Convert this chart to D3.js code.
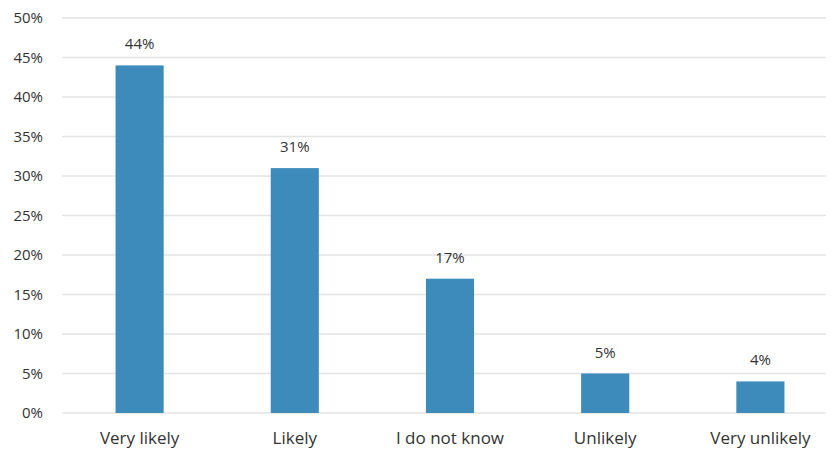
<!DOCTYPE html>
<html><head><meta charset="utf-8">
<script src="https://cdn.jsdelivr.net/npm/d3@7"></script>
<style>body{margin:0;background:#fff}svg{display:block}</style>
</head><body>
<svg id="c" width="833" height="457"></svg>
<script>
const categories = ["Very likely","Likely","I do not know","Unlikely","Very unlikely"];
const values = [44,31,17,5,4];
const yTicks = [0,5,10,15,20,25,30,35,40,45,50];

const svg = d3.select("#c");
const font = "'Open Sans', Lato, sans-serif";
const x = d3.scaleBand().domain(categories).range([62,838]).paddingInner(0.69).paddingOuter(0.345);
const y = d3.scaleLinear().domain([0,50]).range([413,18]);

svg.append("g").selectAll("line").data(yTicks).join("line")
  .attr("x1",62).attr("x2",826).attr("y1",d=>y(d)).attr("y2",d=>y(d))
  .attr("stroke","#e3e3e3").attr("stroke-width",1.5);

const yAxis = svg.append("g").attr("transform","translate(43,0)")
  .call(d3.axisLeft(y).tickValues(yTicks).tickFormat(d=>d+"%").tickSize(0).tickPadding(0));
yAxis.select(".domain").remove();
yAxis.selectAll("text").attr("font-family",font).attr("font-size",15).attr("fill","#333");

svg.append("g").selectAll("rect").data(values).join("rect")
  .attr("x",(d,i)=>x(categories[i])).attr("width",x.bandwidth())
  .attr("y",d=>y(d)).attr("height",d=>y(0)-y(d)).attr("fill","#3d8bbb");

svg.append("g").selectAll("text").data(values).join("text")
  .attr("x",(d,i)=>x(categories[i])+x.bandwidth()/2).attr("y",d=>y(d)-16)
  .attr("text-anchor","middle").attr("font-family",font).attr("font-size",15).attr("fill","#333")
  .text(d=>d+"%");

const xAxis = svg.append("g").attr("transform","translate(0,413)")
  .call(d3.axisBottom(x).tickSize(0).tickPadding(19));
xAxis.select(".domain").remove();
xAxis.selectAll("text").attr("font-family",font).attr("font-size",17).attr("fill","#333");
</script>
</body></html>
